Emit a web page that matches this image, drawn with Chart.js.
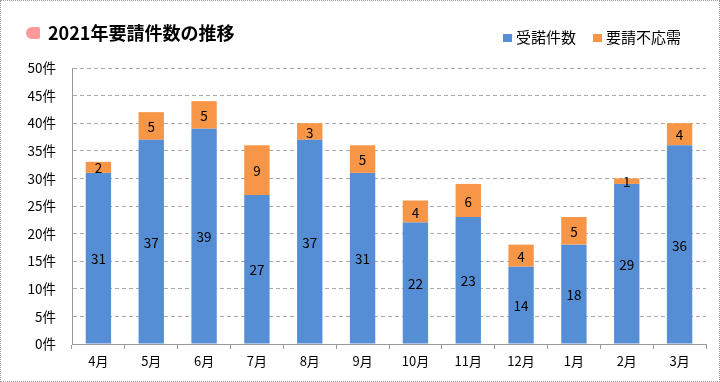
<!DOCTYPE html>
<html><head><meta charset="utf-8">
<script src="https://cdn.jsdelivr.net/npm/chart.js@4/dist/chart.umd.min.js"></script>
<style>
html,body{margin:0;padding:0;background:#fff;}
#wrap{position:relative;width:720px;height:382px;box-sizing:border-box;border:1px dotted #999;font-family:"Noto Sans CJK JP","Noto Sans",sans-serif;}
#title{position:absolute;left:47px;top:18px;font-size:18px;font-weight:bold;color:#000;line-height:26px;}
#icon{position:absolute;left:25px;top:26px;width:14px;height:12px;background:#FF9999;border-radius:6px 2px 2px 6px;}
#legend{position:absolute;left:502px;top:26px;font-size:15px;color:#000;line-height:20px;white-space:nowrap;}
#legend span.sw{display:inline-block;width:9px;height:8px;margin-right:4px;vertical-align:1px;}
#legend span.item{margin-right:17px;}
canvas{position:absolute;left:0;top:0;}
</style></head>
<body>
<div id="wrap">
<canvas id="c" width="718" height="380"></canvas>
<div id="icon"></div>
<div id="title">2021年要請件数の推移</div>
<div id="legend"></div>
</div>
<script>
const categories = ["4月","5月","6月","7月","8月","9月","10月","11月","12月","1月","2月","3月"];
const accepted = [31,37,39,27,37,31,22,23,14,18,29,36];
const declined = [2,5,5,9,3,5,4,6,4,5,1,4];
const seriesNames = ["受諾件数","要請不応需"];
const colors = ["#558ED5","#F79646"];
const yTicks = [0,5,10,15,20,25,30,35,40,45,50];

document.getElementById('legend').innerHTML = seriesNames.map((n,i)=>
  '<span class="item"><span class="sw" style="background:'+colors[i]+'"></span>'+n+'</span>').join('');

const labelPlugin = {
  id:'segLabels',
  afterDatasetsDraw(chart){
    const ctx = chart.ctx;
    ctx.save();
    ctx.font = '13.5px "Noto Sans CJK JP", "Noto Sans", sans-serif';
    ctx.fillStyle = '#000';
    ctx.textAlign = 'center';
    ctx.textBaseline = 'middle';
    chart.data.datasets.forEach((ds,di)=>{
      const meta = chart.getDatasetMeta(di);
      meta.data.forEach((bar,i)=>{
        const v = ds.data[i];
        const yc = (bar.y + bar.base)/2;
        ctx.fillText(String(v), bar.x, yc+1);
      });
    });
    ctx.restore();
  }
};

new Chart(document.getElementById('c'), {
  type:'bar',
  data:{
    labels: categories,
    datasets:[
      {label:seriesNames[0], data:accepted, backgroundColor:colors[0], barPercentage:0.48, categoryPercentage:1},
      {label:seriesNames[1], data:declined, backgroundColor:colors[1], barPercentage:0.48, categoryPercentage:1}
    ]
  },
  options:{
    responsive:false,
    animation:false,
    devicePixelRatio:1,
    layout:{padding:{top:67,right:13,left:0,bottom:0}},
    plugins:{legend:{display:false},title:{display:false},tooltip:{enabled:false}},
    scales:{
      x:{
        stacked:true,
        grid:{display:true,offset:true,drawOnChartArea:false,drawTicks:true,tickLength:5,color:'#999'},
        border:{display:true,color:'#999',width:1},
        ticks:{color:'#000',font:{size:13,family:'"Noto Sans CJK JP", "Noto Sans", sans-serif'},padding:4},
        afterFit(s){s.height=37;}
      },
      y:{
        stacked:true,
        min:0,max:50,
        afterBuildTicks(s){s.ticks = yTicks.map(v=>({value:v}));},
        grid:{color:'#aaa',drawTicks:false,lineWidth:1},
        border:{display:true,color:'#999',width:1,dash:[4,3]},
        ticks:{color:'#000',padding:16,font:{size:13.5,family:'"Noto Sans CJK JP", "Noto Sans", sans-serif'},callback:v=>v+'件'},
        afterFit(s){s.width=71;}
      }
    }
  },
  plugins:[labelPlugin]
});
</script>
</body></html>
